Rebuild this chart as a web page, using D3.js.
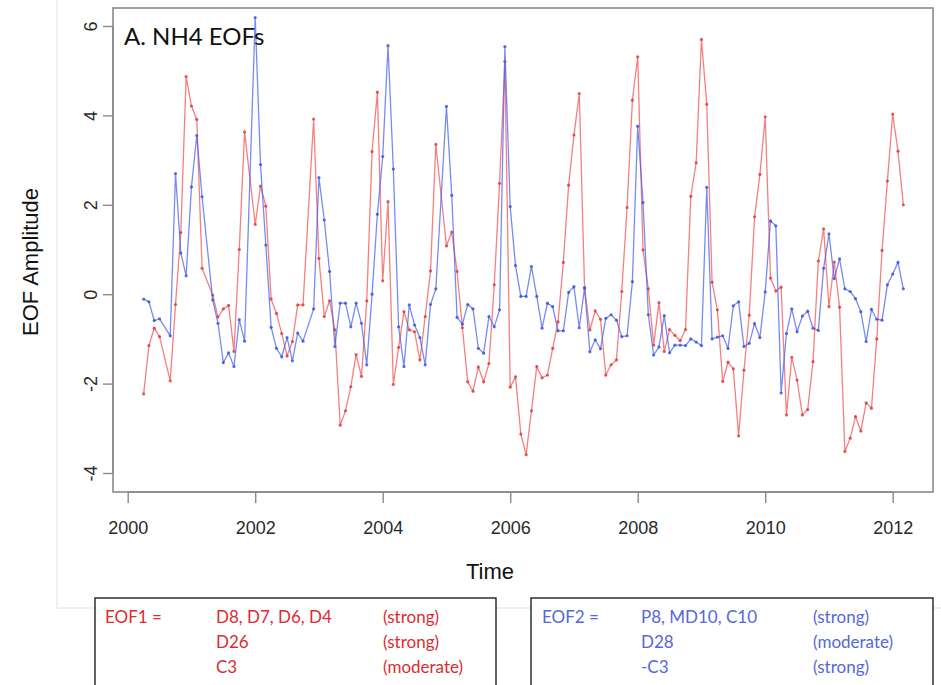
<!DOCTYPE html>
<html><head><meta charset="utf-8">
<script src="https://cdn.jsdelivr.net/npm/d3@7/dist/d3.min.js"></script>
<style>
html,body{margin:0;padding:0;background:#fff;}
svg{display:block;}
</style></head>
<body>
<svg id="chart" width="941" height="685"></svg>
<script>
// ---- data (monthly samples; some months absent) ----
const months = ["2000-04","2000-05","2000-06","2000-07","2000-09","2000-10","2000-11","2000-12",
"2001-01","2001-02","2001-03","2001-05","2001-06","2001-07","2001-08","2001-09","2001-10","2001-11",
"2002-01","2002-02","2002-03","2002-04","2002-05","2002-06","2002-07","2002-08","2002-09","2002-10","2002-12",
"2003-01","2003-02","2003-03","2003-04","2003-05","2003-06","2003-07","2003-08","2003-09","2003-10","2003-11","2003-12",
"2004-01","2004-02","2004-03","2004-04","2004-05","2004-06","2004-07","2004-08","2004-09","2004-10","2004-11",
"2005-01","2005-02","2005-03","2005-04","2005-05","2005-06","2005-07","2005-08","2005-09","2005-10","2005-11","2005-12",
"2006-01","2006-02","2006-03","2006-04","2006-05","2006-06","2006-07","2006-08","2006-09","2006-10","2006-11","2006-12",
"2007-01","2007-02","2007-03","2007-04","2007-05","2007-06","2007-07","2007-08","2007-09","2007-10","2007-11","2007-12",
"2008-01","2008-02","2008-03","2008-04","2008-05","2008-06","2008-07","2008-08","2008-09","2008-10","2008-11","2008-12",
"2009-01","2009-02","2009-03","2009-04","2009-05","2009-06","2009-07","2009-08","2009-09","2009-10","2009-11","2009-12",
"2010-01","2010-02","2010-03","2010-04","2010-05","2010-06","2010-07","2010-08","2010-09","2010-10","2010-11","2010-12",
"2011-01","2011-02","2011-03","2011-04","2011-05","2011-06","2011-07","2011-08","2011-09","2011-10","2011-11","2011-12",
"2012-01","2012-02","2012-03"];

const eof1 = [-2.23,-1.15,-0.76,-0.95,-1.94,-0.23,1.38,4.87,
4.21,3.91,0.58,-0.02,-0.51,-0.33,-0.25,-1.28,1.0,3.63,
1.56,2.42,1.97,-0.11,-0.43,-0.88,-1.38,-1.06,-0.24,-0.24,3.92,
0.80,-0.50,-0.15,-0.80,-2.93,-2.61,-2.07,-1.35,-1.84,-0.15,3.19,4.52,
0.30,2.07,-2.02,-1.19,-0.39,-0.80,-0.84,-1.47,-0.50,0.52,3.35,
1.08,1.39,0.51,-0.75,-1.96,-2.17,-1.63,-1.96,-1.55,0.21,2.48,5.21,
-2.08,-1.85,-3.13,-3.59,-2.61,-1.62,-1.87,-1.81,-1.21,-0.62,0.71,2.44,
3.56,4.49,0.13,-0.80,-0.37,-0.56,-1.81,-1.58,-1.47,0.06,1.94,4.34,
5.31,0.99,0.12,-1.14,-0.19,-1.28,-0.79,-0.92,-1.04,-0.79,2.19,2.94,
5.70,4.25,0.27,-0.35,-1.95,-1.52,-1.67,-3.17,-1.70,-0.47,1.73,2.68,
3.97,0.36,0.07,0.16,-2.70,-1.41,-1.92,-2.70,-2.58,-1.51,0.74,1.46,
-0.28,0.72,-0.29,-3.52,-3.22,-2.74,-3.06,-2.43,-2.55,-1.00,0.98,2.53,
4.03,3.20,2.00];

const eof2 = [-0.11,-0.17,-0.59,-0.55,-0.93,2.70,0.92,0.41,
2.40,3.55,2.18,-0.13,-0.65,-1.53,-1.31,-1.62,-0.57,-1.05,
6.19,2.90,1.10,-0.74,-1.21,-1.40,-0.97,-1.49,-0.87,-1.05,-0.33,
2.61,1.66,0.51,-1.17,-0.20,-0.20,-0.73,-0.20,-0.65,-1.58,0.00,1.79,
3.08,5.56,2.80,-0.73,-1.62,-0.24,-0.69,-0.97,-1.58,-0.23,0.12,
4.20,2.21,-0.52,-0.67,-0.23,-0.33,-1.21,-1.32,-0.50,-0.73,-0.35,5.54,
1.96,0.64,-0.05,-0.05,0.62,-0.05,-0.76,-0.20,-0.28,-0.82,-0.82,0.04,
0.17,-0.75,0.15,-1.29,-1.02,-1.22,-0.54,-0.46,-0.58,-0.95,-0.93,0.28,
3.76,2.05,-0.46,-1.36,-1.18,-0.48,-1.31,-1.14,-1.14,-1.15,-1.00,-1.07,
-1.15,2.39,-1.00,-0.96,-0.93,-1.21,-0.26,-0.17,-1.17,-1.10,-0.66,-0.97,
0.05,1.64,1.53,-2.21,-0.88,-0.33,-0.84,-0.49,-0.38,-0.76,-0.81,0.58,
1.35,0.35,0.79,0.12,0.06,-0.10,-0.39,-1.06,-0.34,-0.56,-0.58,0.21,
0.45,0.71,0.12];

const xTicks = [2000, 2002, 2004, 2006, 2008, 2010, 2012];
const yTicks = [-4, -2, 0, 2, 4, 6];

const title = "A. NH4 EOFs";
const xTitle = "Time";
const yTitle = "EOF Amplitude";

const eof1Rows = [["EOF1 =", "D8, D7, D6, D4", "(strong)"], ["", "D26", "(strong)"], ["", "C3", "(moderate)"]];
const eof2Rows = [["EOF2 =", "P8, MD10, C10", "(strong)"], ["", "D28", "(moderate)"], ["", "-C3", "(strong)"]];

// ---- drawing ----
const svg = d3.select("#chart");
const toYear = s => { const [y, m] = s.split("-").map(Number); return y + (m - 1) / 12; };

const x = d3.scaleLinear().domain([2000, 2012]).range([127.7, 892.7]);
const y = d3.scaleLinear().domain([-4, 6]).range([473, 26]);

const frame = {l: 113, r: 933, t: 8, b: 492};

// faint outer figure border (pasted plot region)
svg.append("path")
  .attr("d", `M57,0 V608 H941`)
  .attr("fill", "none").attr("stroke", "#ececec").attr("stroke-width", 1.5);

// plot frame
svg.append("rect")
  .attr("x", frame.l).attr("y", frame.t)
  .attr("width", frame.r - frame.l).attr("height", frame.b - frame.t)
  .attr("fill", "none").attr("stroke", "#8a8a8a").attr("stroke-width", 1.6);

// x axis
const xAxis = d3.axisBottom(x).tickValues(xTicks).tickSize(11).tickPadding(18).tickFormat(d => String(d));
const gx = svg.append("g").attr("transform", `translate(0,${frame.b})`).call(xAxis);
gx.select(".domain").attr("d", `M${x(2000)},0H${x(2012)}`).attr("stroke", "#8a8a8a").attr("stroke-width", 1.6);
gx.selectAll(".tick line").attr("stroke", "#8a8a8a").attr("stroke-width", 1.4);
gx.selectAll(".tick text").attr("fill", "#2a2a2a")
  .style("font-family", "'Liberation Sans', Arial, sans-serif").style("font-size", "18px");

// y axis
const yAxis = d3.axisLeft(y).tickValues(yTicks).tickSize(10).tickFormat(d => String(d));
const gy = svg.append("g").attr("transform", `translate(${frame.l},0)`).call(yAxis);
gy.select(".domain").attr("d", `M0,${y(-4)}V${y(6)}`).attr("stroke", "#8a8a8a").attr("stroke-width", 1.6);
gy.selectAll(".tick line").attr("stroke", "#8a8a8a").attr("stroke-width", 1.4);
gy.selectAll(".tick text")
  .attr("x", null).attr("dy", null)
  .attr("transform", "translate(-16,0) rotate(-90)")
  .attr("text-anchor", "middle").attr("fill", "#2a2a2a")
  .style("font-family", "'Liberation Sans', Arial, sans-serif").style("font-size", "18px");

// axis titles
svg.append("text").attr("x", 490).attr("y", 579).attr("text-anchor", "middle")
  .attr("fill", "#111").style("font-family", "'Liberation Sans', Arial, sans-serif").style("font-size", "22px")
  .text(xTitle);
svg.append("text").attr("transform", "translate(38,262) rotate(-90)").attr("text-anchor", "middle")
  .attr("fill", "#111").style("font-family", "'Liberation Sans', Arial, sans-serif").style("font-size", "22px")
  .text(yTitle);

// series
const d1 = months.map((m, i) => ({t: toYear(m), v: eof1[i]}));
const d2 = months.map((m, i) => ({t: toYear(m), v: eof2[i]}));
const line = d3.line().x(d => x(d.t)).y(d => y(d.v));

const series = [
  {data: d1, stroke: "#f24848", dot: "#d63a3a"},
  {data: d2, stroke: "#3d5af0", dot: "#3a4fd6"}
];
series.forEach(s => {
  svg.append("path").datum(s.data).attr("d", line)
    .attr("fill", "none").attr("stroke", s.stroke).attr("stroke-opacity", 0.7).attr("stroke-width", 1.3);
  svg.append("g").selectAll("circle").data(s.data).join("circle")
    .attr("cx", d => x(d.t)).attr("cy", d => y(d.v)).attr("r", 1.6)
    .attr("fill", s.dot).attr("fill-opacity", 0.8);
});

// panel title
svg.append("text").attr("x", 124).attr("y", 45)
  .attr("fill", "#111").style("font-family", "Lato, 'Open Sans', sans-serif").style("font-size", "24px")
  .text(title);

// info boxes
function infoBox(x0, x1, rows, color, cols) {
  svg.append("rect").attr("x", x0).attr("y", 598).attr("width", x1 - x0).attr("height", 110)
    .attr("fill", "#fff").attr("stroke", "#111").attr("stroke-width", 1.3);
  rows.forEach((r, i) => {
    r.forEach((txt, j) => {
      if (!txt) return;
      svg.append("text").attr("x", cols[j]).attr("y", 623 + i * 25)
        .attr("fill", color).style("font-family", "Lato, 'Open Sans', sans-serif").style("font-size", "17px")
        .text(txt);
    });
  });
}
infoBox(95, 496, eof1Rows, "#dd2c2f", [105, 216, 383]);
infoBox(531, 933, eof2Rows, "#5468d8", [542, 641, 813]);
</script>
</body></html>
